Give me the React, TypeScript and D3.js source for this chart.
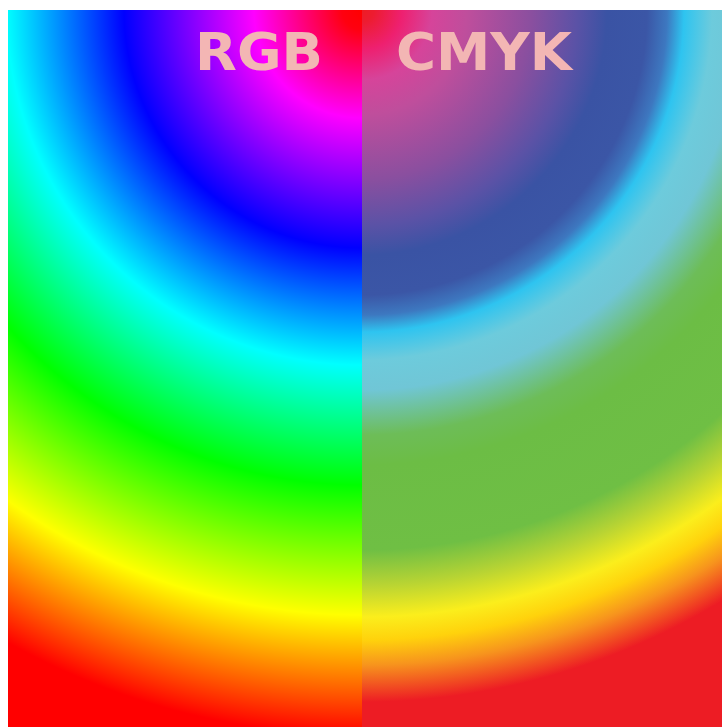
import React from "react";
import * as d3 from "d3";

// Radial colour stops (distance from the top-centre point, in px) and colours
const rgbRadii = [0, 20, 108, 238, 355, 475, 605, 725];
const rgbColors = ["#ff0000", "#ff0010", "#ff00ff", "#0000ff", "#00ffff", "#00ff00", "#ffff00", "#ff0000"];

const cmykRadii = [0, 12, 40, 70, 105, 170, 215, 245, 285, 305, 322, 350, 380, 425, 455, 540, 575, 607, 630, 655, 692, 730];
const cmykColors = [
  "#ed1c24", "#ed1c30", "#ee2070", "#d6449a", "#bf4e9c", "#8a4f9f", "#5b52a6", "#3a53a4",
  "#3b56a6", "#3d78c0", "#2ec4f0", "#6dcbdc", "#70c6d6", "#6dbd58", "#6cbd45", "#6fbf44",
  "#b8d433", "#fbee1c", "#ffd20c", "#f7941d", "#ed1c24", "#ed1c24",
];

const labels = ["RGB", "CMYK"];

const W = 722;
const H = 727;
const left = 8;
const top = 10;
const splitX = 362;
const maxR = 730;

export default function App() {
  const off = d3.scaleLinear().domain([0, maxR]).range([0, 1]);
  const rgbStops = rgbRadii.map((r, i) => ({ o: off(r), c: rgbColors[i] }));
  const cmykStops = cmykRadii.map((r, i) => ({ o: off(r), c: cmykColors[i] }));
  const textColor = "#f3b6b4";
  return (
    <svg
      width={W}
      height={H}
      style={{ position: "absolute", left: 0, top: 0, display: "block" }}
    >
      <defs>
        <radialGradient id="gRGB" gradientUnits="userSpaceOnUse" cx={splitX} cy={top} r={maxR}>
          {rgbStops.map((s, i) => (
            <stop key={i} offset={s.o} stopColor={s.c} />
          ))}
        </radialGradient>
        <radialGradient id="gCMYK" gradientUnits="userSpaceOnUse" cx={splitX} cy={top} r={maxR}>
          {cmykStops.map((s, i) => (
            <stop key={i} offset={s.o} stopColor={s.c} />
          ))}
        </radialGradient>
        <filter id="soft" x="-10%" y="-10%" width="120%" height="120%">
          <feGaussianBlur stdDeviation="0.7" />
        </filter>
      </defs>
      <rect x={0} y={0} width={W} height={H} fill="#ffffff" />
      <rect x={left} y={top} width={splitX - left} height={H - top} fill="url(#gRGB)" />
      <rect x={splitX} y={top} width={W - splitX} height={H - top} fill="url(#gCMYK)" />
      <g filter="url(#soft)" fill={textColor} fontFamily="'DejaVu Sans', sans-serif" fontWeight="bold" fontSize={51}>
        <text x={195} y={70} textLength={128} lengthAdjust="spacingAndGlyphs">
          {labels[0]}
        </text>
        <text x={396} y={70} textLength={176} lengthAdjust="spacingAndGlyphs">
          {labels[1]}
        </text>
      </g>
    </svg>
  );
}
